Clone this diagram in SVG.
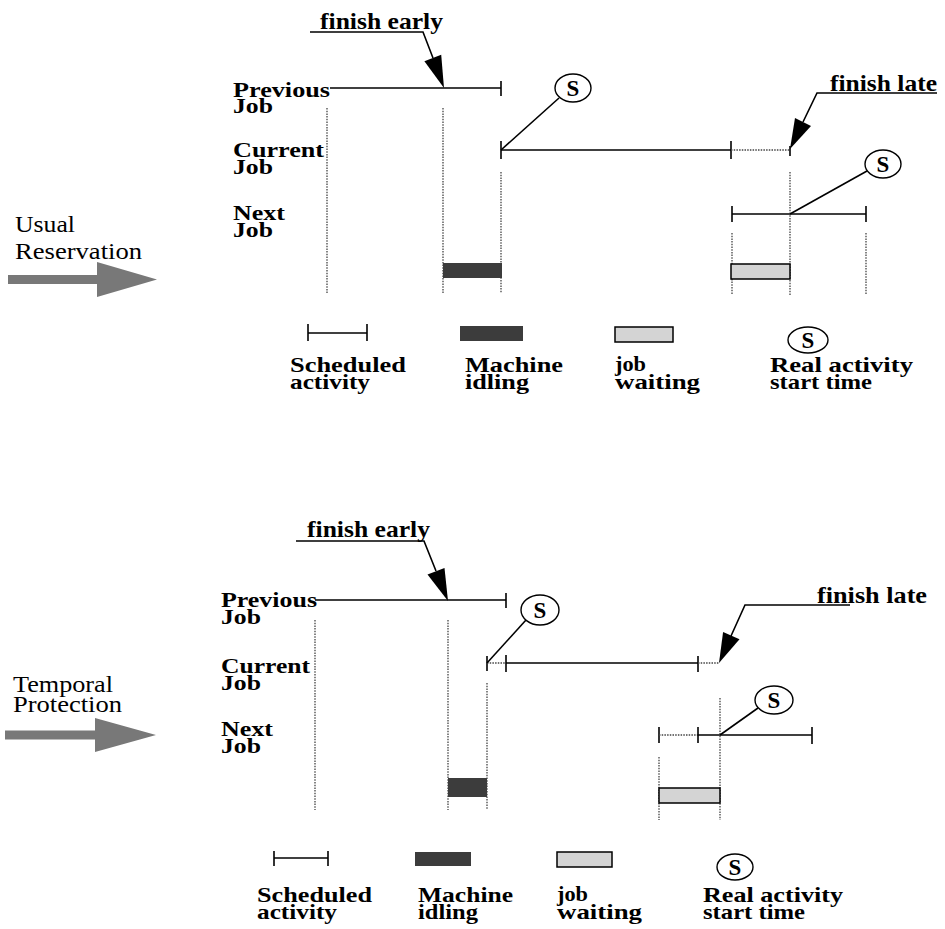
<svg xmlns="http://www.w3.org/2000/svg" width="945" height="929" viewBox="0 0 945 929">
<style>
.b{font-family:"Liberation Serif","Times New Roman",serif;font-weight:bold;font-size:21px;fill:#000}
.f{font-family:"Liberation Serif","Times New Roman",serif;font-weight:bold;font-size:23px;fill:#000}
.r{font-family:"Liberation Serif","Times New Roman",serif;font-size:24px;fill:#000}
.s{font-family:"Liberation Serif","Times New Roman",serif;font-weight:bold;font-size:23px;fill:#000}
.ln{stroke:#000;stroke-width:1.6;fill:none}
.dot{stroke:#444;stroke-width:1.3;stroke-dasharray:1.5 1.2;fill:none}
.idle{fill:#3c3c3c}
.wait{fill:#d4d4d4;stroke:#000;stroke-width:1.5}
.circ{fill:#fff;stroke:#000;stroke-width:1.4}
.big{fill:#787878}
</style>
<rect width="945" height="929" fill="#fff"/>

<!-- ============ TOP: Usual Reservation ============ -->
<g id="usual-label">
<text class="r"><tspan x="15" y="232" textLength="60" lengthAdjust="spacingAndGlyphs">Usual</tspan><tspan x="15" y="259" textLength="127" lengthAdjust="spacingAndGlyphs">Reservation</tspan></text>
<polygon class="big" points="8,275 97,275 97,262 157,279.5 97,297 97,284 8,284"/>
</g>

<g id="top-label-previous"><text class="b"><tspan x="233" y="97" textLength="97" lengthAdjust="spacingAndGlyphs">Previous</tspan><tspan x="233" y="113" textLength="40" lengthAdjust="spacingAndGlyphs">Job</tspan></text></g>
<g id="top-label-current"><text class="b"><tspan x="233" y="157" textLength="91" lengthAdjust="spacingAndGlyphs">Current</tspan><tspan x="233" y="174" textLength="40" lengthAdjust="spacingAndGlyphs">Job</tspan></text></g>
<g id="top-label-next"><text class="b"><tspan x="233" y="220" textLength="52" lengthAdjust="spacingAndGlyphs">Next</tspan><tspan x="233" y="237" textLength="40" lengthAdjust="spacingAndGlyphs">Job</tspan></text></g>

<g id="top-previous">
<line class="ln" x1="330" y1="88" x2="501" y2="88"/>
<line class="ln" x1="501" y1="81" x2="501" y2="96"/>
</g>

<g id="top-current">
<line class="ln" x1="501" y1="150" x2="731" y2="150"/>
<line class="ln" x1="501" y1="141" x2="501" y2="159"/>
<line class="ln" x1="731" y1="141" x2="731" y2="159"/>
<line class="dot" x1="731" y1="150" x2="790" y2="150"/>
<line class="ln" x1="790" y1="146" x2="790" y2="156"/>
</g>

<g id="top-next">
<line class="ln" x1="732" y1="214" x2="866" y2="214"/>
<line class="ln" x1="732" y1="206" x2="732" y2="222"/>
<line class="ln" x1="866" y1="206" x2="866" y2="222"/>
</g>

<g id="top-guides">
<line class="dot" x1="327" y1="108" x2="327" y2="293"/>
<line class="dot" x1="443" y1="108" x2="443" y2="293"/>
<line class="dot" x1="501" y1="172" x2="501" y2="293"/>
<line class="dot" x1="732" y1="233" x2="732" y2="295"/>
<line class="dot" x1="790" y1="172" x2="790" y2="295"/>
<line class="dot" x1="866" y1="233" x2="866" y2="295"/>
</g>

<g id="top-idle"><rect class="idle" x="443" y="263" width="59" height="15"/></g>
<g id="top-wait"><rect class="wait" x="731" y="264" width="59" height="15"/></g>

<g id="top-s1">
<ellipse class="circ" cx="573" cy="88" rx="18" ry="14"/>
<text class="s" x="573" y="96" text-anchor="middle">S</text>
</g>
<g id="top-s2">
<ellipse class="circ" cx="883" cy="164" rx="18" ry="14"/>
<text class="s" x="883" y="172" text-anchor="middle">S</text>
</g>

<g id="top-finish-early">
<text class="f" x="320" y="29" textLength="123" lengthAdjust="spacingAndGlyphs">finish early</text>
</g>
<g id="top-finish-late">
<text class="f" x="830" y="91" textLength="107" lengthAdjust="spacingAndGlyphs">finish late</text>
</g>

<!-- ============ BOTTOM: Temporal Protection ============ -->
<g id="temporal-label">
<text class="r"><tspan x="13" y="692" textLength="100" lengthAdjust="spacingAndGlyphs">Temporal</tspan><tspan x="13" y="712" textLength="109" lengthAdjust="spacingAndGlyphs">Protection</tspan></text>
<polygon class="big" points="5,730.5 95,730.5 95,718 156,735 95,752 95,739.5 5,739.5"/>
</g>

<g id="bot-label-previous"><text class="b"><tspan x="221" y="607" textLength="96" lengthAdjust="spacingAndGlyphs">Previous</tspan><tspan x="221" y="624" textLength="40" lengthAdjust="spacingAndGlyphs">Job</tspan></text></g>
<g id="bot-label-current"><text class="b"><tspan x="221" y="673" textLength="89" lengthAdjust="spacingAndGlyphs">Current</tspan><tspan x="221" y="690" textLength="40" lengthAdjust="spacingAndGlyphs">Job</tspan></text></g>
<g id="bot-label-next"><text class="b"><tspan x="221" y="736" textLength="52" lengthAdjust="spacingAndGlyphs">Next</tspan><tspan x="221" y="753" textLength="40" lengthAdjust="spacingAndGlyphs">Job</tspan></text></g>

<g id="bot-previous">
<line class="ln" x1="315" y1="600" x2="506" y2="600"/>
<line class="ln" x1="506" y1="593" x2="506" y2="608"/>
</g>

<g id="bot-current">
<line class="ln" x1="487" y1="656" x2="487" y2="671"/>
<line class="dot" x1="487" y1="663" x2="506" y2="663"/>
<line class="ln" x1="506" y1="655" x2="506" y2="672"/>
<line class="ln" x1="506" y1="663" x2="698" y2="663"/>
<line class="ln" x1="698" y1="656" x2="698" y2="672"/>
<line class="dot" x1="698" y1="663" x2="719" y2="663"/>
</g>

<g id="bot-next">
<line class="ln" x1="659" y1="727" x2="659" y2="743"/>
<line class="dot" x1="659" y1="735" x2="698" y2="735"/>
<line class="ln" x1="698" y1="727" x2="698" y2="743"/>
<line class="ln" x1="698" y1="735" x2="812" y2="735"/>
<line class="ln" x1="812" y1="727" x2="812" y2="744"/>
</g>

<g id="bot-guides">
<line class="dot" x1="315" y1="620" x2="315" y2="810"/>
<line class="dot" x1="448" y1="620" x2="448" y2="810"/>
<line class="dot" x1="487" y1="683" x2="487" y2="810"/>
<line class="dot" x1="720" y1="698" x2="720" y2="820"/>
<line class="dot" x1="659" y1="757" x2="659" y2="820"/>
</g>

<g id="bot-idle"><rect class="idle" x="448" y="778" width="39" height="19"/></g>
<g id="bot-wait"><rect class="wait" x="659" y="788" width="61" height="15"/></g>

<g id="bot-s1">
<ellipse class="circ" cx="540" cy="610" rx="19" ry="15"/>
<text class="s" x="540" y="618" text-anchor="middle">S</text>
</g>
<g id="bot-s2">
<ellipse class="circ" cx="774" cy="700" rx="19" ry="14"/>
<text class="s" x="774" y="708" text-anchor="middle">S</text>
</g>

<g id="bot-finish-early">
<text class="f" x="307" y="537" textLength="123" lengthAdjust="spacingAndGlyphs">finish early</text>
</g>
<g id="bot-finish-late">
<text class="f" x="817" y="603" textLength="110" lengthAdjust="spacingAndGlyphs">finish late</text>
</g>

<!-- ============ Connectors ============ -->
<g id="connectors">
<!-- top -->
<polyline class="ln" points="310,32 423,32 433,58"/>
<polygon points="444,88 441.2,54.8 424.4,61.2" fill="#000"/>
<line class="ln" x1="501" y1="150" x2="559" y2="98"/>
<polyline class="ln" points="937,93 817,93 803,122"/>
<polygon points="790,149 811,126 795,118" fill="#000"/>
<line class="ln" x1="790" y1="214" x2="867" y2="171"/>
<!-- bottom -->
<polyline class="ln" points="296,541 424,541 436,571"/>
<polygon points="448,601 444.5,568 427.5,574.5" fill="#000"/>
<line class="ln" x1="487" y1="663" x2="526" y2="620"/>
<polyline class="ln" points="850,605 745,605 731,636"/>
<polygon points="719,663 739.5,639.3 723.1,631.9" fill="#000"/>
<line class="ln" x1="720" y1="735" x2="758" y2="708"/>
</g>

<!-- ============ Legends ============ -->
<g id="top-legend-scheduled">
<line class="ln" x1="308" y1="333" x2="367" y2="333"/>
<line class="ln" x1="308" y1="324" x2="308" y2="341"/>
<line class="ln" x1="367" y1="324" x2="367" y2="341"/>
<text class="b"><tspan x="290" y="372" textLength="116" lengthAdjust="spacingAndGlyphs">Scheduled</tspan><tspan x="290" y="389" textLength="80" lengthAdjust="spacingAndGlyphs">activity</tspan></text>
</g>
<g id="top-legend-idle">
<rect class="idle" x="460" y="326" width="63" height="15"/>
<text class="b"><tspan x="465" y="372" textLength="98" lengthAdjust="spacingAndGlyphs">Machine</tspan><tspan x="465" y="389" textLength="64" lengthAdjust="spacingAndGlyphs">idling</tspan></text>
</g>
<g id="top-legend-wait">
<rect class="wait" x="615" y="327" width="58" height="15"/>
<text class="b"><tspan x="615" y="371" textLength="31" lengthAdjust="spacingAndGlyphs">job</tspan><tspan x="615" y="389" textLength="85" lengthAdjust="spacingAndGlyphs">waiting</tspan></text>
</g>
<g id="top-legend-s">
<ellipse class="circ" cx="808" cy="340" rx="20" ry="13"/>
<text class="s" x="808" y="348" text-anchor="middle">S</text>
<text class="b"><tspan x="770" y="372" textLength="143" lengthAdjust="spacingAndGlyphs">Real activity</tspan><tspan x="770" y="389" textLength="102" lengthAdjust="spacingAndGlyphs">start time</tspan></text>
</g>

<g id="bot-legend-scheduled">
<line class="ln" x1="274" y1="858" x2="328" y2="858"/>
<line class="ln" x1="274" y1="851" x2="274" y2="866"/>
<line class="ln" x1="328" y1="851" x2="328" y2="866"/>
<text class="b"><tspan x="257" y="902" textLength="115" lengthAdjust="spacingAndGlyphs">Scheduled</tspan><tspan x="257" y="919" textLength="80" lengthAdjust="spacingAndGlyphs">activity</tspan></text>
</g>
<g id="bot-legend-idle">
<rect class="idle" x="415" y="852" width="56" height="14"/>
<text class="b"><tspan x="418" y="902" textLength="95" lengthAdjust="spacingAndGlyphs">Machine</tspan><tspan x="418" y="919" textLength="60" lengthAdjust="spacingAndGlyphs">idling</tspan></text>
</g>
<g id="bot-legend-wait">
<rect class="wait" x="557" y="852" width="55" height="15"/>
<text class="b"><tspan x="557" y="901" textLength="31" lengthAdjust="spacingAndGlyphs">job</tspan><tspan x="557" y="919" textLength="85" lengthAdjust="spacingAndGlyphs">waiting</tspan></text>
</g>
<g id="bot-legend-s">
<ellipse class="circ" cx="735" cy="867" rx="18" ry="13"/>
<text class="s" x="735" y="875" text-anchor="middle">S</text>
<text class="b"><tspan x="703" y="902" textLength="140" lengthAdjust="spacingAndGlyphs">Real activity</tspan><tspan x="703" y="919" textLength="102" lengthAdjust="spacingAndGlyphs">start time</tspan></text>
</g>
</svg>
